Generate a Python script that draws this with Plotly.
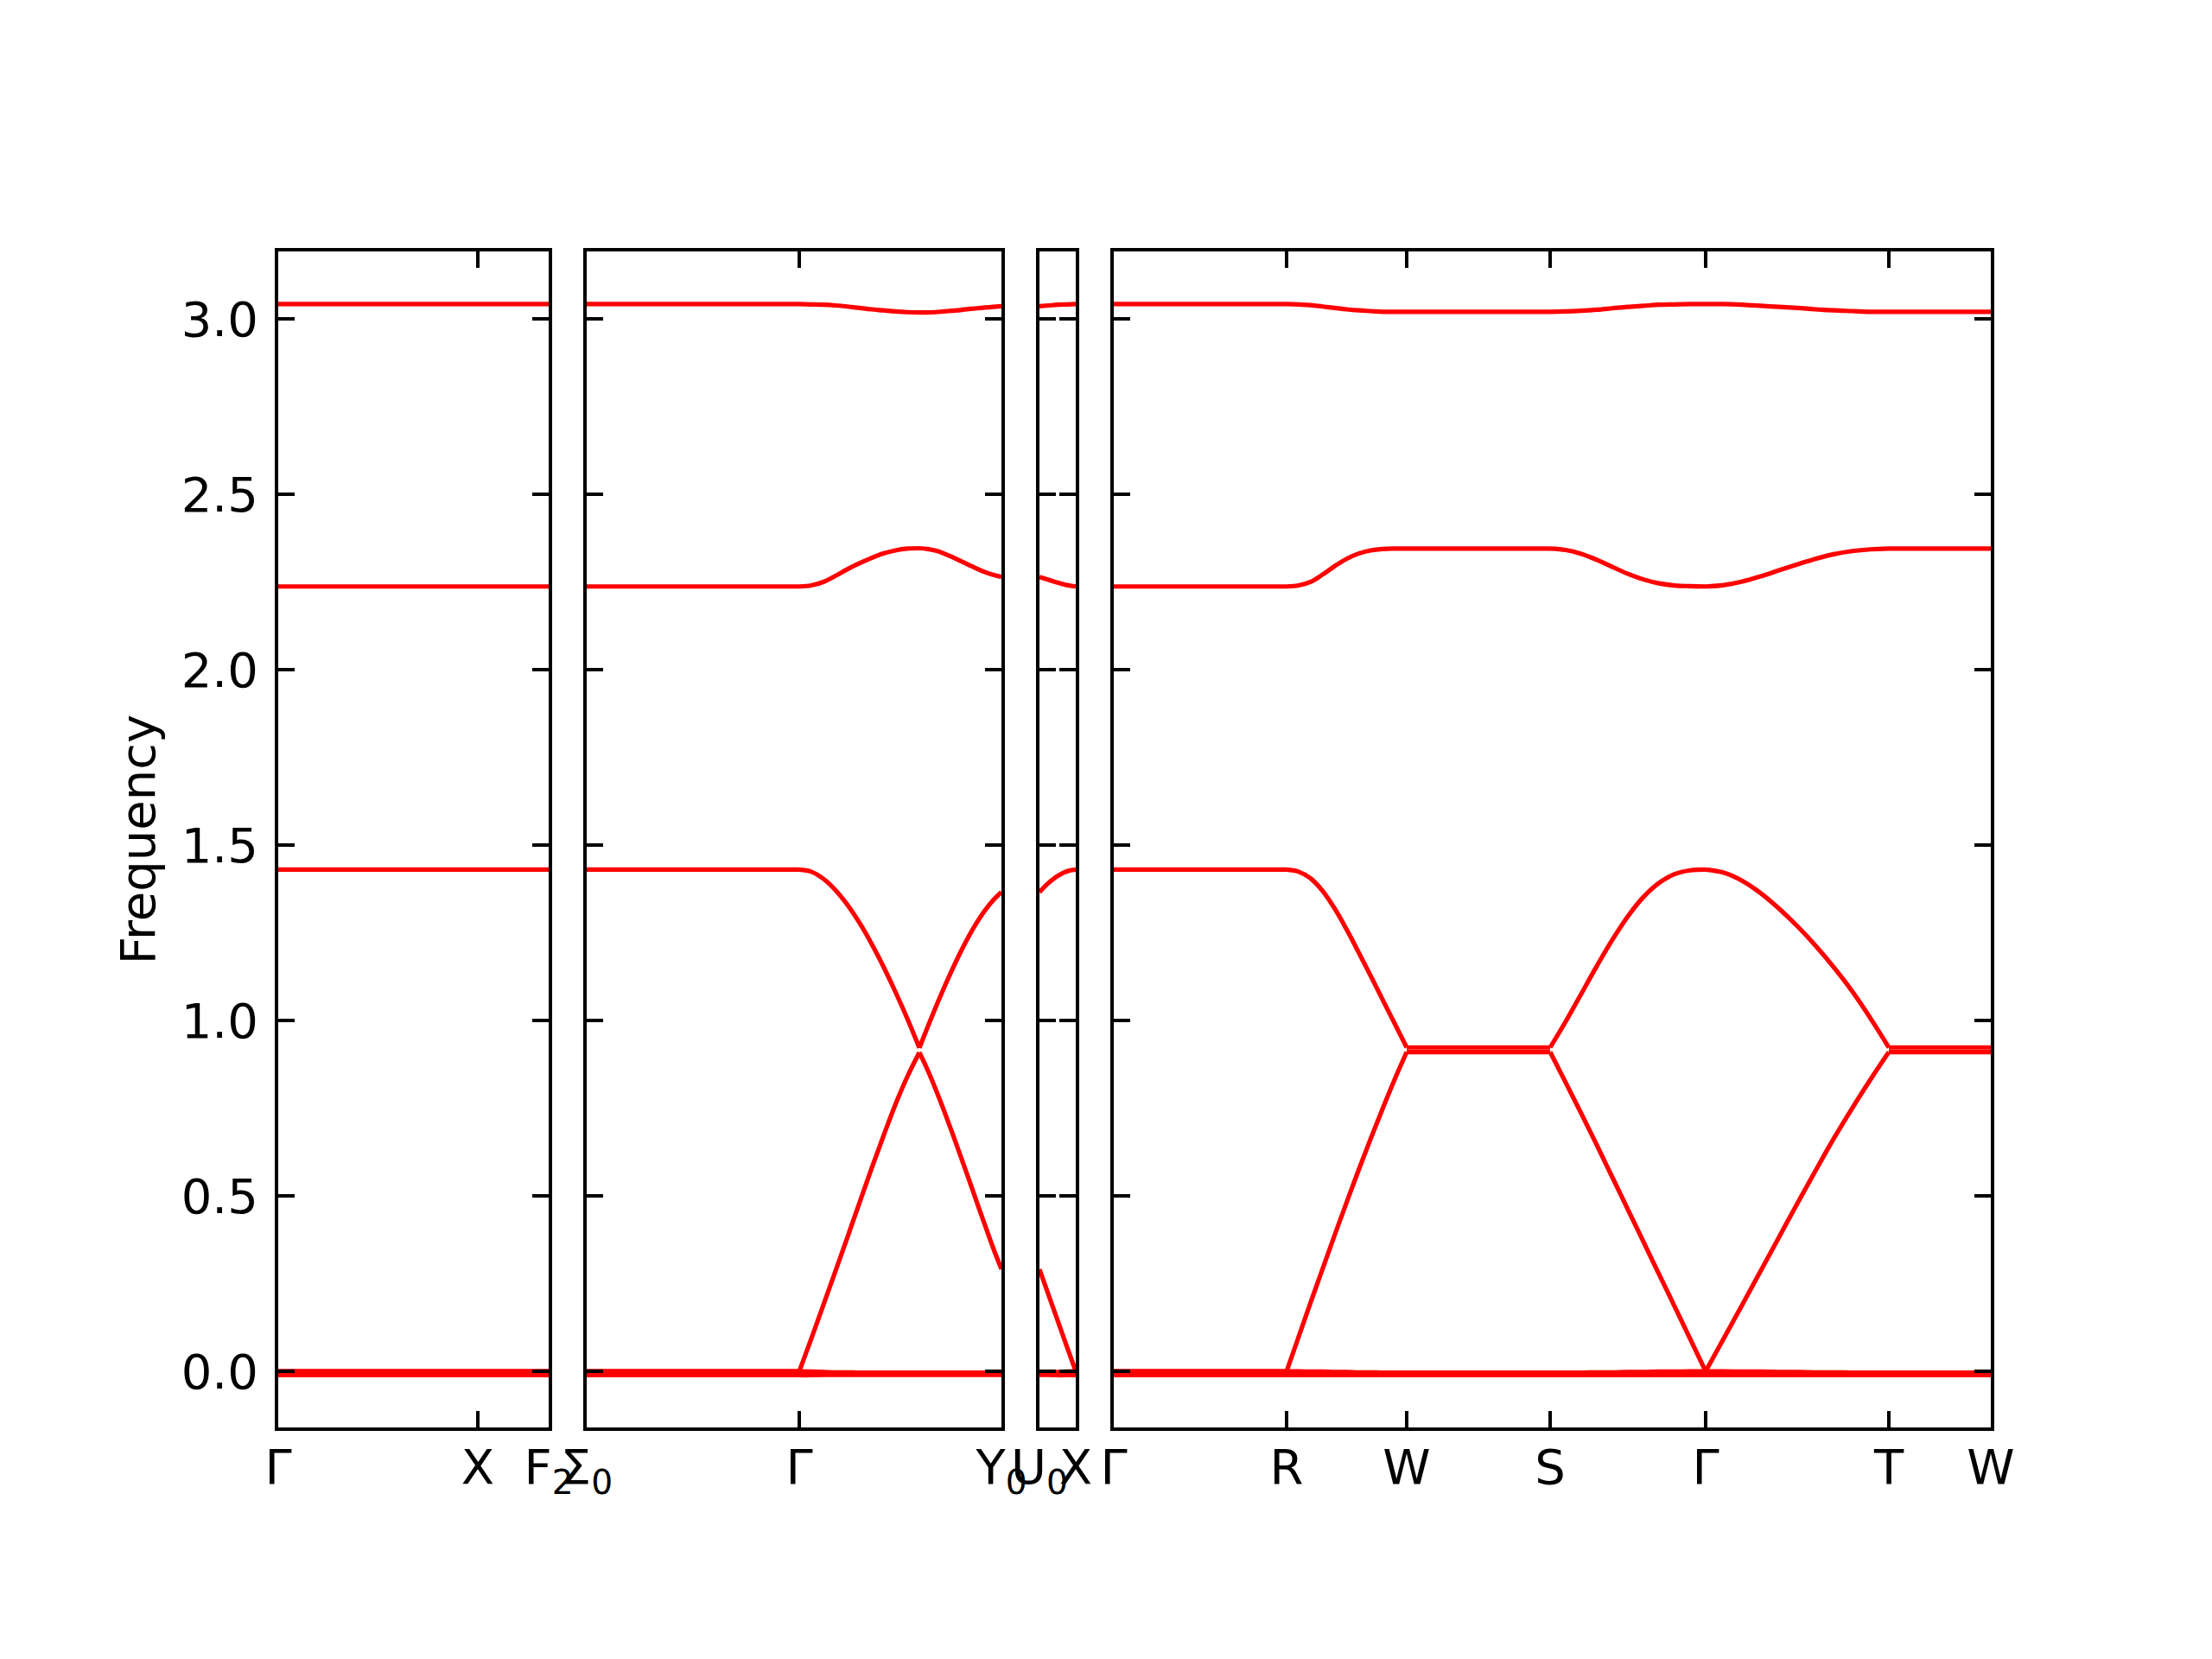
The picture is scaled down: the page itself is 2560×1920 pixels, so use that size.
import plotly.graph_objects as go

# ---------------- tick labels (high-symmetry points) ----------------
P1_LABELS = ["Γ", "X", "F<sub>2</sub>"]
P2_LABELS = ["Σ<sub>0</sub>", "Γ", "Y<sub>0</sub>"]
P3_LABELS = ["U<sub>0</sub>", "X"]
P4_LABELS = ["Γ", "R", "W", "S", "Γ", "T", "W"]

# ---------------- path segment lengths ----------------
P1_SEG = [0.231, 0.082]                 # Γ-X, X-F2
P2_SEG = [0.246, 0.139, 0.095]          # Σ0-Γ, Γ-(band crossing), (crossing)-Y0
P2_TICK_IDX = [0, 1, 3]                 # boundaries carrying labels
P3_SEG = [0.042]                        # U0-X
P4_SEG = [0.200, 0.139, 0.166, 0.180, 0.212, 0.118]  # Γ-R-W-S-Γ-T-W

Y_TICKS = [0.0, 0.5, 1.0, 1.5, 2.0, 2.5, 3.0]

# ---------------- band values per segment ----------------
# bands: [zero-a, zero-b, acoustic, optical-1, optical-2, optical-3]
FLAT_F = [0.0, 1.0]
GRID11 = [0.0, 0.1, 0.2, 0.3, 0.4, 0.5, 0.6, 0.7, 0.8, 0.9, 1.0]
GRID5 = [0.0, 0.25, 0.5, 0.75, 1.0]

GX_BANDS = [[0.0, 0.0], [-0.011, -0.011], [0.0, 0.0],
            [1.430, 1.430], [2.237, 2.237], [3.042, 3.042]]
XF2_BANDS = [[0.0, 0.0], [-0.011, -0.011], [0.0, 0.0],
             [1.430, 1.430], [2.237, 2.237], [3.042, 3.042]]
SIG_G_BANDS = [[0.0, 0.0], [-0.011, -0.011], [0.0, 0.0],
               [1.430, 1.430], [2.237, 2.237], [3.042, 3.042]]
G_K_BANDS = [
    [0.0, -0.001, -0.002, -0.003, -0.003, -0.004, -0.004, -0.004, -0.004, -0.004, -0.004],
    [-0.011, -0.011, -0.010, -0.010, -0.010, -0.010, -0.010, -0.010, -0.010, -0.010, -0.010],
    [0.000, 0.093, 0.188, 0.284, 0.381, 0.479, 0.576, 0.670, 0.760, 0.840, 0.909],
    [1.430, 1.424, 1.404, 1.372, 1.330, 1.279, 1.220, 1.154, 1.082, 1.005, 0.922],
    [2.237, 2.240, 2.250, 2.267, 2.286, 2.303, 2.318, 2.331, 2.340, 2.345, 2.346],
    [3.042, 3.041, 3.040, 3.038, 3.035, 3.031, 3.027, 3.024, 3.021, 3.019, 3.018],
]
K_Y0_BANDS = [
    [-0.004, -0.004, -0.004, -0.004, -0.004, -0.004, -0.004, -0.004, -0.004, -0.004, -0.004],
    [-0.010, -0.010, -0.010, -0.010, -0.010, -0.010, -0.010, -0.010, -0.010, -0.010, -0.010],
    [0.909, 0.859, 0.803, 0.743, 0.680, 0.615, 0.549, 0.482, 0.416, 0.351, 0.291],
    [0.922, 0.981, 1.038, 1.093, 1.145, 1.194, 1.239, 1.279, 1.314, 1.343, 1.366],
    [2.346, 2.344, 2.339, 2.331, 2.321, 2.310, 2.299, 2.288, 2.278, 2.270, 2.264],
    [3.018, 3.018, 3.019, 3.021, 3.023, 3.025, 3.028, 3.030, 3.032, 3.034, 3.036],
]
U0_X_BANDS = [
    [-0.004, -0.003, -0.002, -0.001, 0.0],
    [-0.010, -0.010, -0.011, -0.011, -0.011],
    [0.291, 0.218, 0.145, 0.072, 0.000],
    [1.366, 1.392, 1.412, 1.425, 1.430],
    [2.264, 2.256, 2.248, 2.241, 2.237],
    [3.036, 3.038, 3.040, 3.041, 3.042],
]
G_R_BANDS = [[0.0, 0.0], [-0.011, -0.011], [0.0, 0.0],
             [1.430, 1.430], [2.237, 2.237], [3.042, 3.042]]
R_W_BANDS = [
    [0.0, 0.0, -0.001, -0.001, -0.002, -0.002, -0.003, -0.003, -0.004, -0.004, -0.004],
    [-0.011, -0.011, -0.011, -0.011, -0.011, -0.011, -0.011, -0.011, -0.011, -0.011, -0.011],
    [0.000, 0.098, 0.196, 0.292, 0.388, 0.482, 0.574, 0.663, 0.749, 0.832, 0.910],
    [1.430, 1.424, 1.405, 1.369, 1.319, 1.259, 1.194, 1.127, 1.059, 0.991, 0.923],
    [2.237, 2.240, 2.250, 2.271, 2.295, 2.316, 2.331, 2.340, 2.344, 2.345, 2.345],
    [3.042, 3.041, 3.039, 3.035, 3.031, 3.027, 3.024, 3.022, 3.020, 3.020, 3.020],
]
W_S_BANDS = [[-0.004, -0.004], [-0.011, -0.011], [0.910, 0.910],
             [0.923, 0.923], [2.345, 2.345], [3.020, 3.020]]
S_G_BANDS = [
    [-0.004, -0.004, -0.004, -0.003, -0.003, -0.002, -0.002, -0.001, -0.001, 0.0, 0.0],
    [-0.011, -0.011, -0.011, -0.011, -0.011, -0.011, -0.011, -0.011, -0.011, -0.011, -0.011],
    [0.910, 0.823, 0.735, 0.645, 0.553, 0.461, 0.369, 0.277, 0.185, 0.093, 0.000],
    [0.923, 0.997, 1.076, 1.155, 1.230, 1.297, 1.352, 1.392, 1.417, 1.428, 1.430],
    [2.345, 2.341, 2.330, 2.313, 2.293, 2.273, 2.257, 2.246, 2.240, 2.238, 2.237],
    [3.020, 3.021, 3.023, 3.026, 3.030, 3.034, 3.037, 3.040, 3.041, 3.042, 3.042],
]
G_T_BANDS = [
    [0.0, 0.0, -0.001, -0.001, -0.002, -0.002, -0.003, -0.003, -0.004, -0.004, -0.004],
    [-0.011, -0.011, -0.011, -0.011, -0.011, -0.011, -0.011, -0.011, -0.011, -0.011, -0.011],
    [0.000, 0.095, 0.190, 0.286, 0.382, 0.478, 0.572, 0.664, 0.750, 0.832, 0.910],
    [1.430, 1.421, 1.398, 1.363, 1.319, 1.269, 1.213, 1.151, 1.083, 1.006, 0.923],
    [2.237, 2.241, 2.251, 2.266, 2.283, 2.300, 2.316, 2.329, 2.338, 2.343, 2.345],
    [3.042, 3.042, 3.040, 3.037, 3.034, 3.031, 3.027, 3.024, 3.022, 3.020, 3.020],
]
T_W_BANDS = [[-0.004, -0.004], [-0.011, -0.011], [0.910, 0.910],
             [0.923, 0.923], [2.345, 2.345], [3.020, 3.020]]

# ---------------- assemble panels ----------------
panels = [
    (P1_SEG, P1_LABELS, [0, 1, 2], [(FLAT_F, GX_BANDS), (FLAT_F, XF2_BANDS)]),
    (P2_SEG, P2_LABELS, P2_TICK_IDX, [(FLAT_F, SIG_G_BANDS), (GRID11, G_K_BANDS), (GRID11, K_Y0_BANDS)]),
    (P3_SEG, P3_LABELS, [0, 1], [(GRID5, U0_X_BANDS)]),
    (P4_SEG, P4_LABELS, [0, 1, 2, 3, 4, 5, 6], [(FLAT_F, G_R_BANDS), (GRID11, R_W_BANDS), (FLAT_F, W_S_BANDS),
                                                (GRID11, S_G_BANDS), (GRID11, G_T_BANDS), (FLAT_F, T_W_BANDS)]),
]

W, H = 2560, 1920
PAGE_OFFSET = 6.0          # compensate for the page's body margin
LEFT_PX = 320.0 - PAGE_OFFSET
GAP_PX = 44.0
PX_PER_UNIT = 1000.0
TOP_PX, BOTTOM_PX = 289.0 - PAGE_OFFSET, 1650.0 - PAGE_OFFSET
Y_DOMAIN = [1 - BOTTOM_PX / H, 1 - TOP_PX / H]
Y_RANGE = [-0.160, 3.192]
FONT = 56

fig = go.Figure()
layout = dict(
    template="none",
    width=W, height=H,
    margin=dict(l=0, r=0, t=0, b=0, pad=0),
    plot_bgcolor="white", paper_bgcolor="white",
    showlegend=False,
    font=dict(family="DejaVu Sans", size=FONT, color="black"),
)

x_px = LEFT_PX
for i, (segs, labels, tick_idx, seg_data) in enumerate(panels):
    n = i + 1
    xs_name = "x" if n == 1 else f"x{n}"
    ys_name = "y" if n == 1 else f"y{n}"
    bounds = [0.0]
    for L in segs:
        bounds.append(bounds[-1] + L)
    total = bounds[-1]
    width_px = total * PX_PER_UNIT
    dom = [x_px / W, (x_px + width_px) / W]
    x_px += width_px + GAP_PX

    for b in range(6):
        xs, ys = [], []
        for k, (F, B) in enumerate(seg_data):
            x0, L = bounds[k], segs[k]
            xs += [x0 + f * L for f in F]
            ys += list(B[b])
            xs.append(None)
            ys.append(None)
        fig.add_trace(go.Scatter(
            x=xs, y=ys, mode="lines",
            line=dict(color="#ff0000", width=5.2, shape="spline", smoothing=1.0),
            xaxis=xs_name, yaxis=ys_name, hoverinfo="skip", connectgaps=False,
        ))

    common = dict(ticks="inside", ticklen=19, tickwidth=3.5, tickcolor="black",
                  showline=True, linewidth=4, linecolor="black", mirror="ticks",
                  showgrid=False, zeroline=False, automargin=False)
    layout["xaxis" if n == 1 else f"xaxis{n}"] = dict(
        domain=dom, range=[0, total], anchor=ys_name,
        tickmode="array", tickvals=[bounds[j] for j in tick_idx], ticktext=labels,
        tickangle=0, ticklabelstandoff=-6, tickfont=dict(size=FONT), **common)
    ydict = dict(
        domain=Y_DOMAIN, range=Y_RANGE, anchor=xs_name,
        tickmode="array", tickvals=Y_TICKS, ticktext=[f"{v:.1f}" for v in Y_TICKS],
        showticklabels=(n == 1), ticklabelstandoff=8, tickfont=dict(size=FONT), **common)
    if n == 1:
        ydict["title"] = dict(text="Frequency", standoff=13, font=dict(size=FONT))
    else:
        ydict["matches"] = "y"
    layout["yaxis" if n == 1 else f"yaxis{n}"] = ydict

fig.update_layout(**layout)
fig.write_html("out.html")
